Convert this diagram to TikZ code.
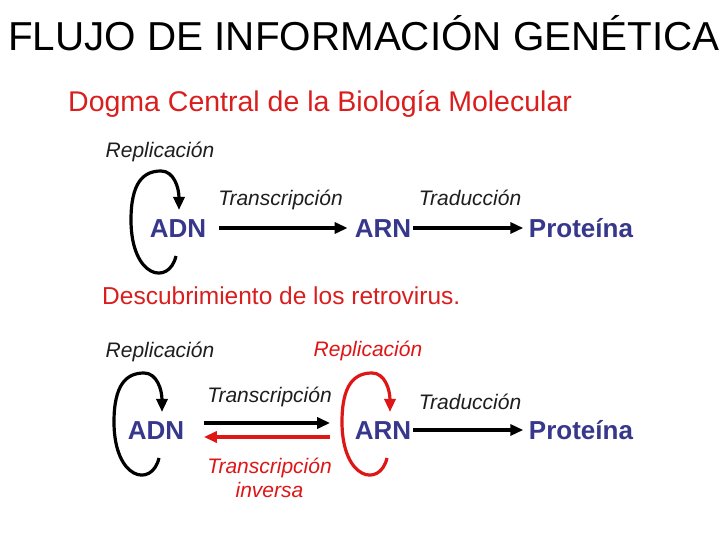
\documentclass[tikz,border=0pt]{standalone}
\usepackage{fontspec}
\setmainfont{Liberation Sans}
\usetikzlibrary{arrows.meta, positioning, calc}
\definecolor{molblue}{RGB}{55,55,140}
\definecolor{headred}{RGB}{218,30,30}
\definecolor{revred}{RGB}{222,22,22}
\definecolor{labgray}{RGB}{30,30,30}
\tikzset{
  mol/.style={font=\fontsize{26}{30}\selectfont\bfseries, text=molblue, inner sep=2pt, text height=18.6pt, text depth=0pt},
  lab/.style={font=\fontsize{21}{24}\selectfont\itshape, text=labgray, inner sep=0pt, text height=16pt, text depth=5pt},
  invlab/.style={font=\fontsize{21}{24}\selectfont\itshape, text=revred, inner sep=0pt, align=center},
  flow/.style={-{Triangle[length=13pt,width=11pt]}, line width=3.5pt},
  rep/.style={-{Triangle[length=13pt,width=11pt]}, line width=3.2pt}
}
\newcommand{\reploop}[3]{\draw[rep, #3, shift={(#1)}, xshift=#2] (-3,-28) .. controls (-10,-58) and (-48,-50) .. (-48,8) .. controls (-48,45) and (-36,57) .. (-18,57) .. controls (-5,57) and (0,40) .. (0,18);}

\begin{document}
\begin{tikzpicture}[x=1pt, y=1pt]
		\fill[white] (0,0) rectangle (728,546);
		\useasboundingbox (0,0) rectangle (728,546);
		\node[anchor=base west, inner sep=0pt, font=\fontsize{40.4}{44}\selectfont] (title) at (8,495) {FLUJO DE INFORMACIÓN GENÉTICA};
		\node[anchor=base west, inner sep=0pt, text=headred, font=\fontsize{28.5}{32}\selectfont] (dogma) at (68,434) {Dogma Central de la Biología Molecular};
		% dogma central
		\node[mol] (ADN1) at (178,318) {ADN};
		\node[mol] (ARN1) at (383,318) {ARN};
		\node[mol] (Prot1) at (581,318) {Proteína};
		\node[lab, anchor=base] (rep1) at (160,388) {Replicación};
		\reploop{ADN1}{1pt}{black}
		\draw[flow, shorten <=11pt, shorten >=5pt] (ADN1) -- node[lab, above=16pt] (trans1) {Transcripción} (ARN1);
		\draw[flow, shorten >=3.5pt] (ARN1) -- node[lab, above=16pt] (trad1) {Traducción} (Prot1);
		% retrovirus
		\node[anchor=base west, inner sep=0pt, text=headred, font=\fontsize{24.5}{28}\selectfont] (retro) at (102,241) {Descubrimiento de los retrovirus.};
		\node[mol] (ADN2) at (156,116) {ADN};
		\node[mol] (ARN2) at (383,116) {ARN};
		\node[mol] (Prot2) at (581,116) {Proteína};
		\node[lab, anchor=base] (rep2) at (160,188) {Replicación};
		\node[lab, anchor=base, text=revred] (rep3) at (368,189) {Replicación};
		\reploop{ADN2}{6pt}{black}
		\reploop{ARN2}{7pt}{revred}
		\draw[flow, shorten <=17.5pt, shorten >=22.5pt] ([yshift=7pt]ADN2.east) -- node[lab, above=14pt] (trans2) {Transcripción} ([yshift=7pt]ARN2.west);
		\draw[flow, revred, shorten <=22.5pt, shorten >=17.5pt] ([yshift=-7pt]ARN2.west) -- node[invlab, below=19pt] (inv) {Transcripción\\inversa} ([yshift=-7pt]ADN2.east);
		\draw[flow, shorten >=3.5pt] (ARN2) -- node[lab, above=14pt] (trad2) {Traducción} (Prot2);
	\end{tikzpicture}
\end{document}
